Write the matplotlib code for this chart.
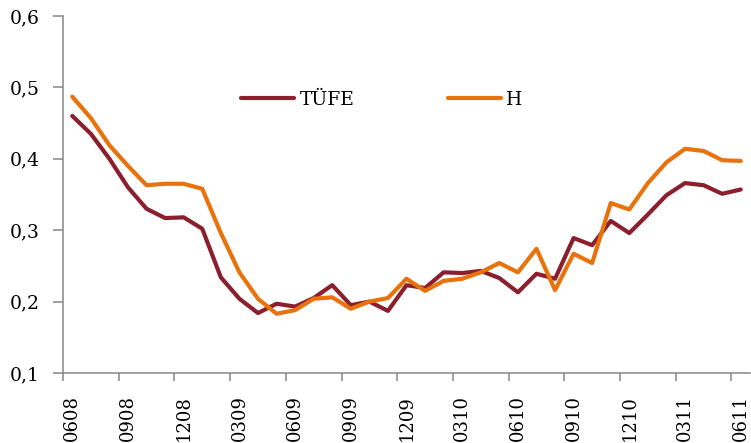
import matplotlib
matplotlib.use('Agg')
import matplotlib.pyplot as plt
import numpy as np

# monthly data, June 2008 - June 2011
labels = ['0608', '0908', '1208', '0309', '0609', '0909', '1209',
          '0310', '0610', '0910', '1210', '0311', '0611']

tufe = [0.460, 0.435, 0.400, 0.360, 0.330, 0.317, 0.318, 0.302, 0.234, 0.204,
        0.184, 0.197, 0.193, 0.205, 0.223, 0.195, 0.200, 0.187, 0.223, 0.219,
        0.241, 0.240, 0.243, 0.233, 0.213, 0.239, 0.232, 0.289, 0.279, 0.313,
        0.296, 0.322, 0.349, 0.366, 0.363, 0.351, 0.357]

h = [0.487, 0.457, 0.419, 0.390, 0.363, 0.365, 0.365, 0.358, 0.296, 0.241,
     0.204, 0.183, 0.188, 0.204, 0.206, 0.190, 0.200, 0.205, 0.232, 0.215,
     0.229, 0.232, 0.241, 0.254, 0.241, 0.274, 0.216, 0.267, 0.254, 0.338,
     0.329, 0.366, 0.395, 0.414, 0.411, 0.398, 0.397]

plt.rcParams['font.family'] = ['DejaVu Serif']

fig = plt.figure(figsize=(7.51, 4.43), dpi=100)
ax = fig.add_axes([63 / 751, 1 - 373 / 443, 687 / 751, 357 / 443])

x = np.arange(len(tufe))
ax.plot(x, tufe, color='#8B1F2E', lw=3, label='TÜFE', solid_capstyle='round')
ax.plot(x, h, color='#E8720C', lw=3, label='H', solid_capstyle='round')

ax.set_xlim(-0.5, len(tufe) - 0.5)
ax.set_ylim(0.1, 0.6)

# tick marks between categories, labels on every third month
ax.set_xticks(np.arange(-0.5, len(tufe) - 1, 3))
ax.set_xticklabels([])
ax.set_xticks(np.arange(0, len(tufe), 3), minor=True)
ax.set_xticklabels(labels, minor=True, rotation=90, fontsize=13)
ax.tick_params(axis='x', which='major', length=6, width=1.1, color='#868686')
ax.tick_params(axis='x', which='minor', length=0, pad=16)

yt = [0.1, 0.2, 0.3, 0.4, 0.5, 0.6]
ax.set_yticks(yt)
ax.set_yticklabels([f'{v:.1f}'.replace('.', ',') for v in yt], fontsize=13.5)
ax.tick_params(axis='y', length=7, width=1.1, color='#868686', pad=10)

for s in ['top', 'right']:
    ax.spines[s].set_visible(False)
for s in ['left', 'bottom']:
    ax.spines[s].set_color('#868686')
    ax.spines[s].set_linewidth(1.1)

ax.legend(ncol=2, frameon=False, fontsize=13.5, loc='center left',
          bbox_to_anchor=(0.246, 0.765), borderpad=0, handlelength=2.8,
          handletextpad=0.3, columnspacing=5.0)

fig.savefig('out.png', dpi=100)
